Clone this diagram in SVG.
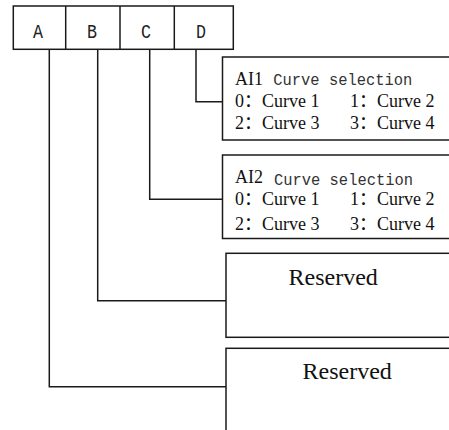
<svg xmlns="http://www.w3.org/2000/svg" width="449" height="430" viewBox="0 0 449 430">
<style>
.box{fill:#fff;stroke:#1a1a1a;stroke-width:1.5}
.ln{fill:none;stroke:#1a1a1a;stroke-width:1.5}
.lbl{font-family:"Liberation Mono",monospace;font-size:21px;fill:#222;text-anchor:middle}
.mono{font-family:"Liberation Mono",monospace;font-size:16px;fill:#333}
.ser{font-family:"Liberation Serif","Noto Sans CJK SC",serif;font-size:18px;fill:#111}
.res{font-family:"Liberation Serif",serif;font-size:24px;fill:#111}
</style>
<rect width="449" height="430" fill="#fff"/>
<g id="register">
<rect class="box" x="13.3" y="6" width="220" height="43.3"/>
<line class="ln" x1="65.7" y1="6" x2="65.7" y2="49.3"/>
<line class="ln" x1="120" y1="6" x2="120" y2="49.3"/>
<line class="ln" x1="174.3" y1="6" x2="174.3" y2="49.3"/>
<text class="lbl" x="38" y="38.3" textLength="10" lengthAdjust="spacingAndGlyphs">A</text>
<text class="lbl" x="92" y="38.3" textLength="10" lengthAdjust="spacingAndGlyphs">B</text>
<text class="lbl" x="146" y="38.3" textLength="10" lengthAdjust="spacingAndGlyphs">C</text>
<text class="lbl" x="201" y="38.3" textLength="10" lengthAdjust="spacingAndGlyphs">D</text>
</g>
<g id="connectors">
<polyline class="ln" points="196,49.3 196,101.7 222.5,101.7"/>
<polyline class="ln" points="149.7,49.3 149.7,199.3 222.5,199.3"/>
<polyline class="ln" points="97.7,49.3 97.7,300.7 226,300.7"/>
<polyline class="ln" points="49.3,49.3 49.3,386.7 226,386.7"/>
</g>
<g id="ai1">
<rect class="box" x="222.5" y="57" width="240" height="83"/>
<text class="ser" x="235" y="84.5">AI1</text>
<text class="mono" x="273.3" y="85" textLength="139" lengthAdjust="spacingAndGlyphs">Curve selection</text>
<text class="ser" x="235" y="107">0：Curve 1</text>
<text class="ser" x="350" y="107">1：Curve 2</text>
<text class="ser" x="235" y="128.5">2：Curve 3</text>
<text class="ser" x="350" y="128.5">3：Curve 4</text>
</g>
<g id="ai2">
<rect class="box" x="222.5" y="155" width="240" height="83.5"/>
<text class="ser" x="235" y="183.3">AI2</text>
<text class="mono" x="274" y="185" textLength="139" lengthAdjust="spacingAndGlyphs">Curve selection</text>
<text class="ser" x="235" y="204.5">0：Curve 1</text>
<text class="ser" x="350" y="204.5">1：Curve 2</text>
<text class="ser" x="235" y="230">2：Curve 3</text>
<text class="ser" x="350" y="230">3：Curve 4</text>
</g>
<g id="reserved1">
<rect class="box" x="226" y="253.3" width="240" height="84"/>
<text class="res" x="288.5" y="285">Reserved</text>
</g>
<g id="reserved2">
<rect class="box" x="226" y="348.3" width="240" height="100"/>
<text class="res" x="302.5" y="379">Reserved</text>
</g>
</svg>
